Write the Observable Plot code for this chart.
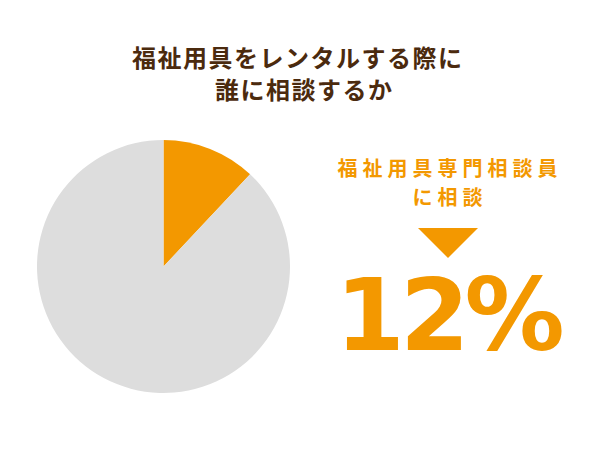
<!DOCTYPE html>
<html>
<head>
<meta charset="utf-8">
<script src="https://cdn.jsdelivr.net/npm/d3@7"></script>
<script src="https://cdn.jsdelivr.net/npm/@observablehq/plot@0.6"></script>
<style>
  html, body { margin: 0; padding: 0; background: #fff; }
  #page { position: relative; width: 600px; height: 450px; overflow: hidden; font-family: "Noto Sans CJK JP", "Noto Sans", sans-serif; }
  #title { position: absolute; left: 0; top: 41px; width: 600px; text-align: center; font-size: 24px; line-height: 32px; font-weight: 700; color: #4B2A0E; letter-spacing: 1.5px; padding-left: 1.5px; box-sizing: border-box; }
  #title div { margin-left: -6px; }
  #title div + div { margin-left: 7px; }
  #pie { position: absolute; left: 0; top: 121px; }
  #note { position: absolute; left: 330px; top: 153px; width: 235px; text-align: center; color: #F39800; font-weight: 700; }
  #label { font-size: 20px; line-height: 29px; letter-spacing: 5px; padding-left: 5px; }
  #tri { width: 0; height: 0; margin: 17px auto 0; border-left: 30.5px solid transparent; border-right: 30.5px solid transparent; border-top: 30px solid #F39800; }
  #big { position: absolute; left: 330px; top: 266px; width: 235px; text-align: center; color: #F39800; font-family: "DejaVu Sans", sans-serif; font-weight: 700; font-size: 100px; line-height: 100px; letter-spacing: -5px; padding-left: 0px; }
</style>
</head>
<body>
<div id="page">
  <div id="title"></div>
  <div id="pie"></div>
  <div id="note"><div id="label"></div><div id="tri"></div></div>
  <div id="big"></div>
</div>
<script>
const titleLines = ["福祉用具をレンタルする際に", "誰に相談するか"];
const categories = ["福祉用具専門相談員に相談", "その他"];
const values = [12, 88];
const sliceColors = ["#F39800", "#DDDDDD"];
const labelLines = ["福祉用具専門相談員", "に相談"];

const data = categories.map((c, i) => ({category: c, value: values[i]}));

document.getElementById("title").innerHTML = titleLines.map(t => `<div>${t}</div>`).join("");
document.getElementById("label").innerHTML = labelLines.join("<br>");
document.getElementById("big").textContent = values[0] + "%";

const color = d3.scaleOrdinal(categories, sliceColors);

function pieMark(index, scales, values_, dimensions) {
  const {width, height, marginLeft, marginRight, marginTop, marginBottom} = dimensions;
  const iw = width - marginLeft - marginRight;
  const ih = height - marginTop - marginBottom;
  const r = Math.min(iw, ih) / 2;
  const cx = marginLeft + iw / 2;
  const cy = marginTop + ih / 2;
  const arcs = d3.pie().sort(null).value(d => d.value)(data);
  const arc = d3.arc().innerRadius(0).outerRadius(r);
  const g = d3.create("svg:g").attr("transform", `translate(${cx},${cy})`);
  g.selectAll("path").data(arcs).join("path")
    .attr("d", arc)
    .attr("fill", d => color(d.data.category));
  return g.node();
}

const chart = Plot.plot({
  width: 327,
  height: 290,
  marginLeft: 37,
  marginRight: 37,
  marginTop: 19,
  marginBottom: 18,
  marks: [pieMark]
});
document.getElementById("pie").appendChild(chart);
</script>
</body>
</html>
